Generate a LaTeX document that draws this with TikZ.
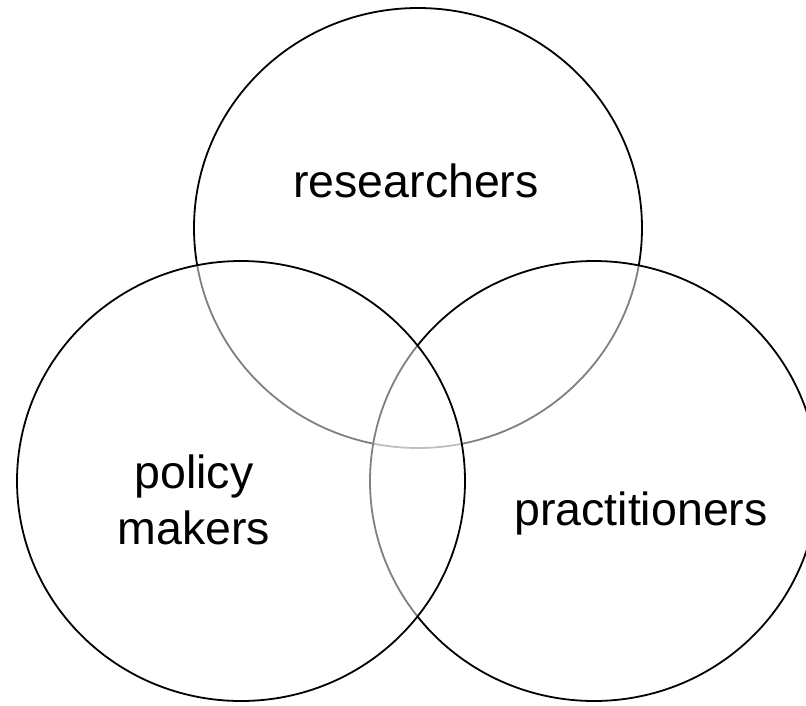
\documentclass[tikz,border=0pt]{standalone}
\usepackage{fontspec}
\setmainfont{Liberation Sans}
\usetikzlibrary{shapes.geometric}

\tikzset{every path/.style={line width=1.8pt}}
\tikzset{group/.style={ellipse,draw,fill=white,fill opacity=.5,minimum width=448pt,minimum height=440pt,inner sep=0pt}}
\tikzset{grouptext/.style={font=\fontsize{46.5}{56}\selectfont,inner sep=0pt}}

\begin{document}
\begin{tikzpicture}[x=1pt,y=-1pt]
    \useasboundingbox (0,0) rectangle (806,705);
    % the three groups
    \node[group] (R) at (418,228) {};
    \node[group] (P) at (594,481) {};
    \node[group] (M) at (241,481) {};
    % labels
    \node[grouptext,anchor=base] (Rl) at (416,197) {researchers};
    \node[grouptext,anchor=base] (Pl) at (641,525) {practitioners};
    \node[grouptext,anchor=north,align=center] (Ml) at (194,454) {policy\\makers};
  \end{tikzpicture}
\end{document}
